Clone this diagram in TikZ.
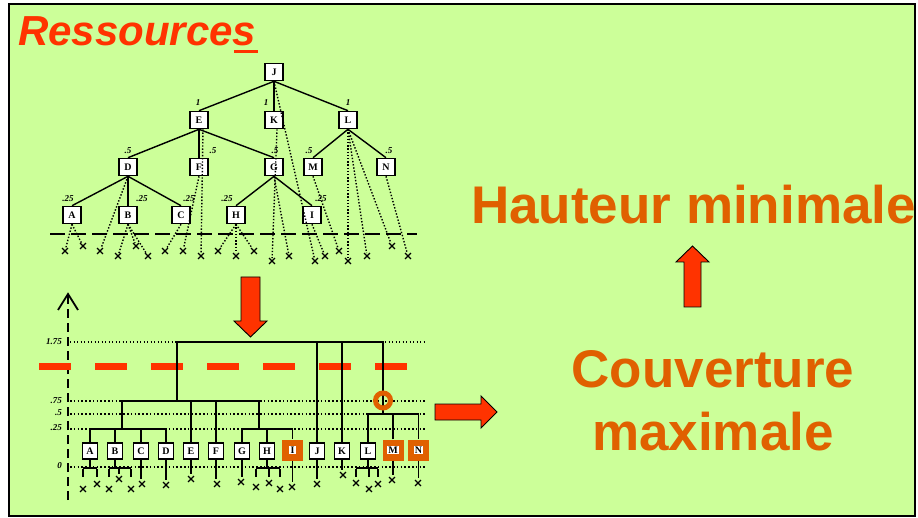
\documentclass[tikz,border=0pt]{standalone}
\usepackage{fontspec}
\setmainfont{Liberation Serif}
\newfontfamily\hv{Liberation Sans}
\usetikzlibrary{shapes.misc}
\definecolor{bg}{HTML}{CCFF99}
\definecolor{redO}{HTML}{FF3300}
\definecolor{orD}{HTML}{E06000}
\begin{document}
\begin{tikzpicture}[x=1pt,y=-1pt,
 tbox/.style={draw,line width=1.6pt,fill=white,minimum width=18pt,minimum height=17pt,inner sep=0pt,font=\bfseries\fontsize{10}{10}\selectfont},
 lbox/.style={draw,line width=1.6pt,fill=white,minimum width=15pt,minimum height=16pt,inner sep=0pt,font=\bfseries\fontsize{10}{10}\selectfont},
 obox/.style={fill=orD,minimum size=21pt,inner sep=0pt,font=\bfseries\fontsize{10}{10}\selectfont},
 wlab/.style={font=\bfseries\itshape\fontsize{9}{9}\selectfont,inner sep=0pt},
 xm/.style={cross out,draw,line width=1.3pt,minimum size=4.5pt,inner sep=0pt},
 tedge/.style={line width=1.4pt},
 dend/.style={line width=1.5pt},
 dotl/.style={line width=1.4pt,dash pattern=on 1.4pt off 1.8pt},
 lvl/.style={line width=1.6pt,dash pattern=on 1.6pt off 2.2pt},
 bigarrow/.style={fill=redO,draw=black,line width=0.9pt},
 bigtxt/.style={text=orD,font=\hv\bfseries\fontsize{53}{53}\selectfont,inner sep=0pt,anchor=base}
]
\useasboundingbox (0,0) rectangle (918,518);
\fill[white] (0,0) rectangle (918,518);
\draw[fill=bg,line width=2pt] (9,4) rectangle (915,516);

% title
\node[anchor=base west,inner sep=0pt,text=redO,font=\hv\bfseries\itshape\fontsize{42}{42}\selectfont] (title) at (18,46) {Ressources};
\fill[redO] (234,50.5) rectangle (258,53.5);

% big texts
\node[bigtxt] (haut) at (693.5,224) {Hauteur minimale};
\node[bigtxt] (couv) at (713,388) {Couverture};
\node[bigtxt] (maxi) at (713,450) {maximale};

% big arrows
\draw[bigarrow] (241,277) -- (260,277) -- (260,321) -- (267,321) -- (250.5,337) -- (234,321) -- (241,321) -- cycle;
\draw[bigarrow] (684,307) -- (701,307) -- (701,262) -- (709,262) -- (692.5,246) -- (676,262) -- (684,262) -- cycle;
\draw[bigarrow] (435,404) -- (481,404) -- (481,396) -- (497,412) -- (481,428) -- (481,420) -- (435,420) -- cycle;

% ---------------- top tree ----------------
\node[tbox] (J) at (274,72) {J};
\node[tbox] (E) at (199,120) {E};
\node[tbox] (K) at (274,120) {K};
\node[tbox] (L) at (348,120) {L};
\node[tbox] (D) at (128,167) {D};
\node[tbox] (F) at (199,167) {F};
\node[tbox] (G) at (274,167) {G};
\node[tbox] (M) at (313,167) {M};
\node[tbox] (N) at (386,167) {N};
\node[tbox] (A) at (72,215) {A};
\node[tbox] (B) at (128,215) {B};
\node[tbox] (C) at (181,215) {C};
\node[tbox] (H) at (236,215) {H};
\node[tbox] (I) at (312,215) {I};

\foreach \p/\c in {J/E,J/K,J/L,E/D,E/F,E/G,L/M,L/N,D/A,D/B,D/C,G/H,G/I}
  \draw[tedge] (\p.south) -- (\c.north);

\node[wlab] (wE) at (198,103) {1};
\node[wlab] (wK) at (266,103) {1};
\node[wlab] (wL) at (348,103) {1};
\node[wlab] (wD) at (128,151) {.5};
\node[wlab] (wF) at (213,151) {.5};
\node[wlab] (wG) at (275,151) {.5};
\node[wlab] (wM) at (309,151) {.5};
\node[wlab] (wN) at (389,151) {.5};
\node[wlab] (wA) at (68,199) {.25};
\node[wlab] (wB) at (142,199) {.25};
\node[wlab] (wC) at (189,199) {.25};
\node[wlab] (wH) at (227,199) {.25};
\node[wlab] (wI) at (321,199) {.25};

\draw[line width=2pt,dash pattern=on 15pt off 6pt] (50,234) -- (417,234);

\foreach \i/\x/\y in {1/65/251,2/83/246,3/100/251,4/118/256,5/136/246,6/148/256,7/165/251,8/183/251,9/201/256,10/218/251,11/236/256,12/254/251,13/272/261,14/289/256,15/315/261,16/325/256,17/339/251,18/348/261,19/367/256,20/392/246,21/408/256}
  \node[xm] (t\i) at (\x,\y) {};

\foreach \s/\t in {A/1,A/2,D/3,B/4,B/5,B/6,C/7,F/8,H/10,H/11,H/12,G/14,J/15,I/16,M/17,L/18,L/19,L/20,N/21}
  \draw[dotl] (\s.south) -- (t\t);
\draw[dotl] ([xshift=4pt]E.south) -- (t9);
\draw[dotl] ([xshift=3pt]K.south) -- (t13);

% ---------------- lower dendrogram ----------------
\coordinate (axb) at (68,500);
\coordinate (axt) at (68,294);
\draw[line width=2.5pt,dash pattern=on 9pt off 5pt] (axb) -- (axt);
\draw[line width=1.8pt] (58,310) -- (axt) -- (78,310);

\draw[line width=1.1pt,dash pattern=on 1.3pt off 2.2pt] (70,342) -- (425,342);
\foreach \yy in {401,414,429,467}
  \draw[lvl] (70,\yy) -- (425,\yy);

\node[wlab,anchor=east] (l175) at (62,342) {1.75};
\node[wlab,anchor=east] (l075) at (62,401) {.75};
\node[wlab,anchor=east] (l050) at (62,413) {.5};
\node[wlab,anchor=east] (l025) at (62,428) {.25};
\node[wlab,anchor=east] (l000) at (62,466) {0};

\draw[redO,line width=7pt,dash pattern=on 32pt off 24pt] (39,367) -- (407,367);

\foreach \n/\x in {A/90,B/115,C/141,D/166,E/191,F/216,G/242,H/267,J/317,K/342,L/368}
  \node[lbox] (l\n) at (\x,451) {\n};
{\setlength{\fboxsep}{1.2pt}
\foreach \n/\x in {I/292.5,M/393,N/418.5}
  \node[obox] (l\n) at (\x,450) {\colorbox{white}{\n}};
}

\coordinate (g1) at (122,429);
\coordinate (g2) at (177,401);
\coordinate (g3) at (259,429);
\coordinate (g4) at (383,414);
\draw[dend] (lA.north) |- (g1) -| (lD.north);
\draw[dend] (lB.north) -- (lB.north |- g1);
\draw[dend] (lC.north) -- (lC.north |- g1);
\draw[dend] (lG.north) |- (g3) -| (lI.north);
\draw[dend] (lH.north) -- (lH.north |- g3);
\draw[dend] (g1) |- (g2) -| (g3);
\draw[dend] (lE.north) -- (lE.north |- g2);
\draw[dend] (lF.north) -- (lF.north |- g2);
\draw[dend] (lL.north) |- (g4) -| (lN.north);
\draw[dend] (lM.north) -- (lM.north |- g4);
\draw[dend] (g2) |- (177,342) -| (g4);
\draw[dend] (lJ.north) -- (lJ.north |- 0,342);
\draw[dend] (lK.north) -- (lK.north |- 0,342);
\draw[orD,line width=5pt] (383,400.5) circle (7.5pt);

% leaves below
\foreach \i/\x/\y in {1/83/489,2/97/484,3/109/489,4/119/479,5/131/489,6/142/484,7/166/485,8/191/479,9/217/484,10/241/482,11/256/487,12/269/483,13/280/489,14/292/487,15/317/484,16/343/475,17/356/483,18/369/489,19/378/484,20/392/480,21/418/483}
  \node[xm] (b\i) at (\x,\y) {};

\foreach \n/\t in {C/6,D/7,E/8,F/9,G/10,I/14,J/15,K/16,M/20,N/21}
  \draw[dend] (l\n.south) -- ([yshift=5pt]b\t.center -| l\n.south);

\draw[dend] (lA.south) -- (lA.south |- 0,468);
\draw[dend] (83,468) -- (97,468);
\draw[dend] (lB.south) -- (lB.south |- 0,468);
\draw[dend] (109,468) -- (131,468);
\draw[dend] (lH.south) -- (lH.south |- 0,468);
\draw[dend] (256,468) -- (280,468);
\draw[dend] (lL.south) -- (lL.south |- 0,468);
\draw[dend] (356,468) -- (378,468);
\foreach \t in {1,2,3,5,11,12,13,17,18,19}
  \draw[dend] (b\t |- 0,469) -- (b\t |- 0,477);
\draw[dend] (b4 |- 0,469) -- (b4 |- 0,474);
\end{tikzpicture}
\end{document}
